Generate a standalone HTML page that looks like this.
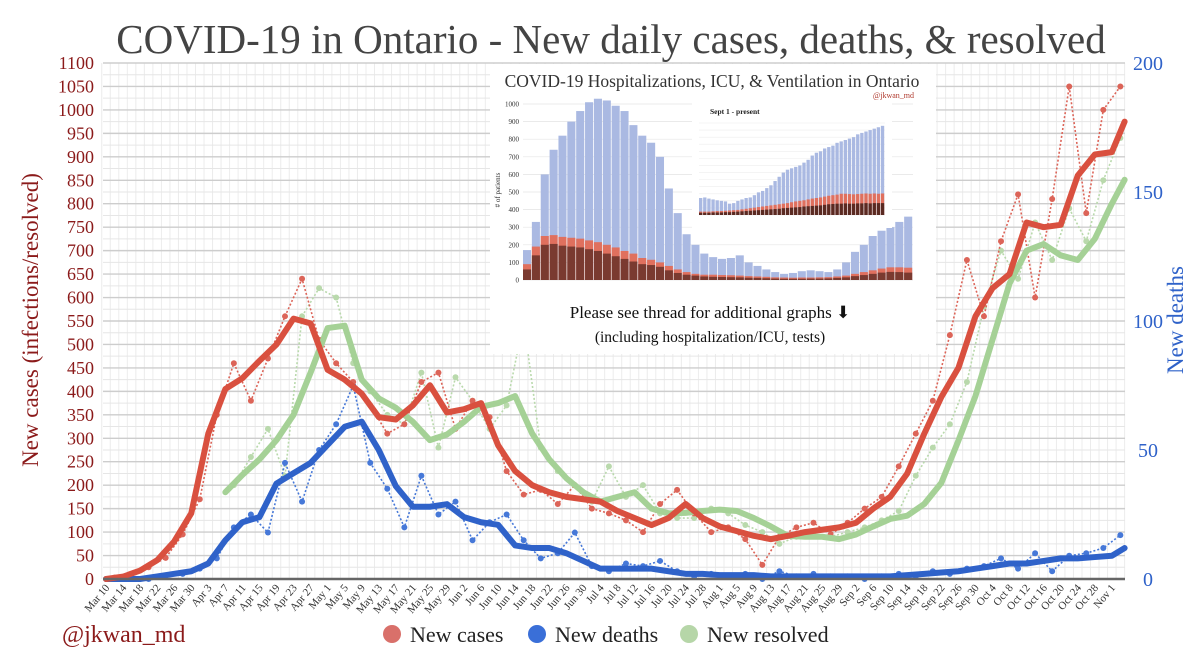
<!DOCTYPE html>
<html><head><meta charset="utf-8"><style>
body{margin:0;background:#fff;}
svg{display:block;font-family:"Liberation Serif",serif;}
</style></head><body>
<svg id="chart" width="1200" height="666" viewBox="0 0 1200 666">
<rect width="1200" height="666" fill="#fff"/>
<text x="611" y="53" text-anchor="middle" font-size="41" fill="#444">COVID-19 in Ontario - New daily cases, deaths, &amp; resolved</text>
<g id="grid"></g>
<g id="raw"></g>
<g id="smooth"></g>
<g id="axes"></g>
<g id="inset"></g>
<text x="38" y="320" transform="rotate(-90 38 320)" text-anchor="middle" font-size="23" fill="#8b1a1a">New cases (infections/resolved)</text>
<text x="1183" y="320" transform="rotate(-90 1183 320)" text-anchor="middle" font-size="23" fill="#2f62c9">New deaths</text>
<text x="62" y="642" font-size="24" fill="#8b1a1a">@jkwan_md</text>
<g>
<g><circle cx="392" cy="634" r="9" fill="#d9706a"/><text x="410" y="642" font-size="22" fill="#222">New cases</text></g>
<g><circle cx="537" cy="634" r="9" fill="#3a6fd8"/><text x="555" y="642" font-size="22" fill="#222">New deaths</text></g>
<g><circle cx="689" cy="634" r="9" fill="#b6d6a8"/><text x="707" y="642" font-size="22" fill="#222">New resolved</text></g>
</g>
</svg>
<script>
const smoothDays=[0,4,8,12,16,20,24,28,32,36,40,44,48,52,56,60,64,68,72,76,80,84,88,92,96,100,104,108,112,116,120,124,128,132,136,140,144,148,152,156,160,164,168,172,176,180,184,188,192,196,200,204,208,212,216,220,224,228,232,236,239];
const casesAvg=[0,5,18,40,80,140,310,405,428,465,500,555,545,446,425,395,345,340,370,413,355,362,375,285,230,200,185,175,170,165,145,130,115,130,160,130,112,102,92,85,92,100,105,110,120,150,175,225,310,388,450,560,620,650,760,750,755,860,905,910,975];
const deathsAvg=[0,0,0,1,2,3,6,15,22,24,37,41,45,52,59,61,50,36,28,28,29,24,22,21,13,12,12,10,7,4,4,4,4,3,2,2,1.5,1.5,1.5,1,1,1,1,1,1,1,1,1.5,2,2.5,3,4,5,6,6,7,8,8,8.5,9,12];
const resolvedStart=7;
const resolvedAvg=[185,222,255,296,350,440,535,540,425,385,365,335,296,308,335,367,375,390,310,255,215,185,165,175,185,150,140,141,145,148,145,130,112,92,90,90,85,95,112,128,135,160,205,295,390,510,630,700,714,690,680,725,800,851];
const rawDays=[2,6,10,14,18,22,26,30,34,38,42,46,50,54,58,62,66,70,74,78,82,86,90,94,98,102,106,110,114,118,122,126,130,134,138,142,146,150,154,158,162,166,170,174,178,182,186,190,194,198,202,206,210,214,218,222,226,230,234,238];
const casesRaw=[3,10,25,45,95,170,350,460,380,470,560,640,510,460,420,370,310,330,420,440,320,380,345,230,180,190,160,200,150,140,125,100,160,190,140,100,110,85,30,90,110,120,95,120,150,175,240,310,380,520,680,560,720,820,600,810,1050,780,1000,1050];
const deathsRaw=[0,0,0,1,2,4,8,20,25,18,45,30,50,60,75,45,35,20,40,25,30,15,22,25,15,8,10,18,5,3,6,5,7,3,1,2,1,2,0,3,1,2,1,1,0,1,2,1,3,2,4,5,8,4,10,3,9,10,12,17];
const resolvedRawStart=7;
const resolvedRaw=[200,260,320,220,560,620,600,460,400,350,330,440,280,430,380,320,370,550,280,230,200,165,240,175,200,140,130,130,150,140,115,100,75,90,95,90,100,110,125,145,220,280,330,420,580,700,640,760,680,790,720,850,940];
const xLabels=["Mar 10","Mar 14","Mar 18","Mar 22","Mar 26","Mar 30","Apr 3","Apr 7","Apr 11","Apr 15","Apr 19","Apr 23","Apr 27","May 1","May 5","May 9","May 13","May 17","May 21","May 25","May 29","Jun 2","Jun 6","Jun 10","Jun 14","Jun 18","Jun 22","Jun 26","Jun 30","Jul 4","Jul 8","Jul 12","Jul 16","Jul 20","Jul 24","Jul 28","Aug 1","Aug 5","Aug 9","Aug 13","Aug 17","Aug 21","Aug 25","Aug 29","Sep 2","Sep 6","Sep 10","Sep 14","Sep 18","Sep 22","Sep 26","Sep 30","Oct 4","Oct 8","Oct 12","Oct 16","Oct 20","Oct 24","Oct 28","Nov 1"];
const leftTicks=[0,50,100,150,200,250,300,350,400,450,500,550,600,650,700,750,800,850,900,950,1000,1050,1100];
const rightTicks=[0,50,100,150,200];
const hospTotal=[170,330,600,740,820,900,960,1010,1030,1020,990,960,880,820,780,700,520,380,260,200,150,130,120,125,140,100,80,60,45,35,40,50,55,50,45,60,100,160,200,250,280,300,330,360];
const hospICU=[90,190,250,255,245,240,235,225,215,200,185,165,150,125,115,100,80,60,45,35,30,30,28,27,25,22,20,18,15,14,13,14,14,15,16,20,25,35,45,55,65,72,72,70];
const hospVent=[60,140,200,205,195,190,185,175,165,150,135,120,105,90,85,75,55,40,30,25,20,18,17,16,15,13,12,10,8,7,7,7,8,8,9,12,15,22,28,35,42,46,45,42];
const subTotal=[60,62,58,55,52,50,48,40,42,50,55,60,62,70,80,85,95,105,120,135,150,160,165,170,175,185,195,210,220,225,235,240,245,255,260,265,270,275,285,290,295,300,305,310,315];
const subICU=[12,12,12,13,14,14,15,16,17,18,20,22,24,26,28,30,32,34,36,38,40,42,45,48,50,52,55,58,60,62,65,68,70,72,75,75,74,73,74,75,76,75,76,75,76];
const subVent=[8,8,8,9,9,9,10,10,11,12,13,14,15,16,17,18,19,20,21,22,24,25,26,27,28,30,31,32,33,34,36,38,39,40,40,41,40,40,41,41,42,41,42,42,42];

const NS="http://www.w3.org/2000/svg";
function mk(tag,attrs,parent){const e=document.createElementNS(NS,tag);for(const k in attrs)e.setAttribute(k,attrs[k]);if(parent)parent.appendChild(e);return e;}
const X0=106,PXD=4.262,Y0=579;
const xs=d=>X0+d*PXD;
const yL=v=>Y0-v*(516/1100);
const yR=v=>Y0-v*(516/200);

const grid=document.getElementById('grid');
for(let d=-1;d<=239;d+=2){const l=mk('line',{x1:xs(d),x2:xs(d),y1:63,y2:Y0,stroke:'#ececec','stroke-width':1},grid);

}
for(let v=25;v<=1100;v+=25){const major=v%50===0;const l=mk('line',{x1:103,x2:1125,y1:yL(v),y2:yL(v),stroke:major?'#cdcdcd':'#e6e6e6','stroke-width':major?1.4:1},grid);

}

const axes=document.getElementById('axes');
const base=mk('line',{x1:103,x2:1125,y1:Y0,y2:Y0,stroke:'#666','stroke-width':2.5},axes);


leftTicks.forEach(v=>{const t=mk('text',{x:94,y:yL(v)+6,'text-anchor':'end','font-size':18,fill:'#8b1a1a'},axes);t.textContent=v;

});
rightTicks.forEach(v=>{const t=mk('text',{x:1148,y:yR(v)+7,'text-anchor':'middle','font-size':20,fill:'#2f62c9'},axes);t.textContent=v;

});
xLabels.forEach((s,i)=>{const x=xs(i*4)+4,y=588;const t=mk('text',{x:x,y:y,'text-anchor':'end','font-size':11,fill:'#333',transform:`rotate(-50 ${x} ${y})`},axes);t.textContent=s;

});

const raw=document.getElementById('raw');
function rawSeries(days,vals,yf,color,name){
  const pts=vals.map((v,i)=>[xs(days[i]),yf(v)]);
  const p=mk('polyline',{points:pts.map(p=>p.join(',')).join(' '),fill:'none',stroke:color,'stroke-width':1.6,'stroke-dasharray':'2 2'},raw);
  
  
  pts.forEach(q=>{const c=mk('circle',{cx:q[0],cy:q[1],r:3,fill:color},raw);
  
  });
}
rawSeries(rawDays.slice(resolvedRawStart),resolvedRaw,yL,'#b9d9ac','resolved');
rawSeries(rawDays,deathsRaw,yR,'#4678d8','deaths');
rawSeries(rawDays,casesRaw,yL,'#dc6458','cases');

const sm=document.getElementById('smooth');
function smooth(days,vals,yf,color,name){
  const p=mk('polyline',{points:vals.map((v,i)=>xs(days[i])+','+yf(v)).join(' '),fill:'none',stroke:color,'stroke-width':6,'stroke-linejoin':'round','stroke-linecap':'round'},sm);
  
  
}
smooth(smoothDays.slice(resolvedStart),resolvedAvg,yL,'#a5d196','resolved');
smooth(smoothDays,deathsAvg,yR,'#2f62c9','deaths');
smooth(smoothDays,casesAvg,yL,'#d9503f','cases');

const ins=document.getElementById('inset');
const bg=mk('rect',{x:490,y:64,width:446,height:290,fill:'#fff'},ins);


const it=mk('text',{x:712,y:87,'text-anchor':'middle','font-size':17.5,fill:'#333'},ins);it.textContent='COVID-19 Hospitalizations, ICU, & Ventilation in Ontario';


const ih=mk('text',{x:914,y:98,'text-anchor':'end','font-size':8,fill:'#b03a2e'},ins);ih.textContent='@jkwan_md';


const IX0=523,IX1=913,IY0=280,ISC=176/1000;
for(let v=0;v<=1000;v+=100){const l=mk('line',{x1:IX0,x2:IX1,y1:IY0-v*ISC,y2:IY0-v*ISC,stroke:'#e4e4e4','stroke-width':0.7},ins);


const t=mk('text',{x:519,y:IY0-v*ISC+2.5,'text-anchor':'end','font-size':7,fill:'#333'},ins);t.textContent=v;

}
const yl=mk('text',{x:500,y:190,transform:'rotate(-90 500 190)','text-anchor':'middle','font-size':7,fill:'#333'},ins);yl.textContent='# of patients';


const bw=(IX1-IX0)/hospTotal.length;
hospTotal.forEach((v,i)=>{const x=IX0+i*bw;
[[v,'#aab9e2'],[hospICU[i],'#e0705e'],[hospVent[i],'#7a3a30']].forEach(([val,col])=>{const r=mk('rect',{x:x,y:IY0-val*ISC,width:bw-0.8,height:val*ISC,fill:col},ins);

});});
const sb=mk('rect',{x:692,y:103,width:200,height:125,fill:'#fff'},ins);


const st=mk('text',{x:710,y:114,'font-size':7.5,'font-weight':'bold',fill:'#222'},ins);st.textContent='Sept 1 - present';


const SX0=699,SX1=885,SY0=215,SSC=92/325;
for(let v=0;v<=325;v+=25){const l=mk('line',{x1:SX0,x2:885,y1:SY0-v*SSC,y2:SY0-v*SSC,stroke:'#eee','stroke-width':0.6},ins);

}
const sbw=(SX1-SX0)/subTotal.length;
subTotal.forEach((v,i)=>{const x=SX0+i*sbw;
[[v,'#aab9e2'],[subICU[i],'#e0705e'],[subVent[i],'#5a2a22']].forEach(([val,col])=>{const r=mk('rect',{x:x,y:SY0-val*SSC,width:sbw-0.8,height:val*SSC,fill:col},ins);

});});
const n1=mk('text',{x:710,y:318,'text-anchor':'middle','font-size':17,fill:'#111'},ins);n1.textContent='Please see thread for additional graphs \u2B07';


const n2=mk('text',{x:710,y:342,'text-anchor':'middle','font-size':15.5,fill:'#111'},ins);n2.textContent='(including hospitalization/ICU, tests)';


</script>
</body></html>
